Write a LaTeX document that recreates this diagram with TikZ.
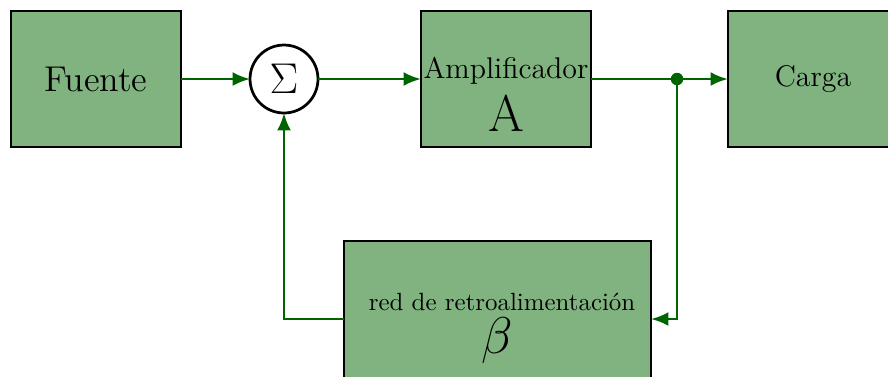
\documentclass[tikz,border=0pt]{standalone}
\usetikzlibrary{arrows.meta}
\definecolor{boxfill}{RGB}{128,179,128}
\definecolor{wire}{RGB}{0,100,0}
\begin{document}
\begin{tikzpicture}[x=0.4016pt,y=-0.4016pt,
  blk/.style={draw=black,line width=1.1pt,fill=boxfill,inner sep=0pt,outer sep=0pt,minimum width=68.3pt,minimum height=54.6pt},
  sumc/.style={draw=black,line width=1.1pt,fill=white,circle,inner sep=0pt,outer sep=0pt,minimum size=27.3pt},
  conn/.style={draw=wire,line width=1pt,-{Latex[length=7pt,width=5.6pt]}},
  wireline/.style={draw=wire,line width=1pt}]
\useasboundingbox (0,0) rectangle (888,376);
\node[blk,font=\Large] (src) at (96,79) {Fuente};
\node[sumc,font=\LARGE] (sig) at (284,79) {$\Sigma$};
\node[blk] (amp) at (506,79) {};
\node[blk,font=\large] (load) at (813,79) {Carga};
\node[blk,minimum width=123.3pt,minimum height=68pt] (fb) at (497.5,325.7) {};
\node[anchor=base,font=\large,inner sep=0pt] (ampt) at (506,78) {Amplificador};
\node[anchor=base,font=\huge,inner sep=0pt] (ampa) at (506,131) {A};
\node[anchor=base,inner sep=0pt] (fbt) at (502,310) {red de retroalimentación};
\node[anchor=base,font=\huge,inner sep=0pt] (fbb) at (497,353) {$\beta$};
\coordinate (dot) at (677,79);
\coordinate (c1) at (677,319);
\fill[wire] (dot) circle (2.5pt);
\draw[conn] (src) -- (sig);
\draw[conn] (sig) -- (amp);
\draw[wireline] (amp.east |- dot) -- (dot);
\draw[conn] (dot) -- (load.west |- dot);
\draw[conn] (dot) -- (c1) -- (c1 -| fb.east);
\draw[conn] (fb.west |- c1) -| (sig.south);
\end{tikzpicture}
\end{document}
